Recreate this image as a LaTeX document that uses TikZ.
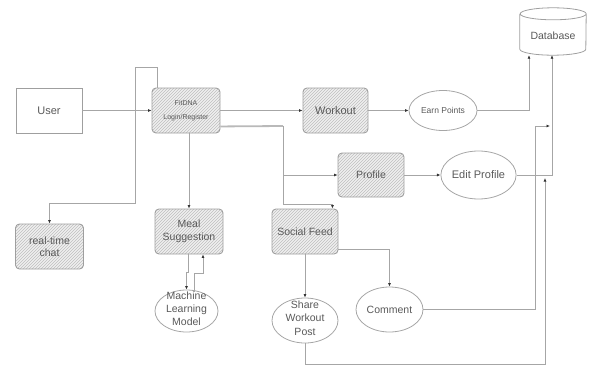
\documentclass[tikz,border=0pt]{standalone}
\usepackage{fontspec}
\setmainfont{Liberation Sans}
\usetikzlibrary{shapes.geometric,patterns,arrows.meta,calc}
\begin{document}
\begin{tikzpicture}[x=1pt,y=-1pt,
  every node/.style={font=\fontsize{10.5}{12.5}\selectfont, text=black!65, align=center},
  hbox/.style={draw=gray!75, line width=0.9pt, rounded corners=4pt,
    preaction={fill=gray!12}, pattern=north east lines, pattern color=gray!50,
    minimum width=66pt, minimum height=45pt, inner sep=1pt},
  plainbox/.style={draw=gray!75, line width=0.8pt, minimum width=66pt, minimum height=45pt},
  oval/.style={ellipse, draw=gray!70, line width=0.8pt, minimum width=67pt, minimum height=45pt, inner sep=0pt},
  conn/.style={draw=gray!70, line width=0.8pt},
  arr/.style={conn, -{Latex[length=3.5pt,width=3pt,color=black!80]}},
  dbline/.style={draw=gray!75, line width=0.8pt}
]
\useasboundingbox (0,0) rectangle (589,367);

% nodes
\node[plainbox] (user) at (49,110.5) {\fontsize{11}{13}\selectfont User};
\node[hbox, minimum width=68pt] (login) at (186,110.5) {\fontsize{7}{10}\selectfont FitDNA\\[1pt]\fontsize{7}{10}\selectfont Login/Register};
\node[hbox, minimum width=65pt] (workout) at (335.5,110.5) {\fontsize{11}{13}\selectfont Workout};
\node[oval, minimum width=68pt, minimum height=40pt] (earn) at (443,110.5) {\fontsize{8.5}{10}\selectfont Earn Points};
\node[minimum width=66pt, minimum height=47pt, inner sep=0pt] (db) at (553,31.5) {};
\draw[dbline] ([yshift=-6pt]db.north west) -- ([yshift=6pt]db.south west)
  arc[start angle=180, end angle=360, x radius=33pt, y radius=6pt]
  -- ([yshift=-6pt]db.north east)
  arc[start angle=0, end angle=180, x radius=33pt, y radius=6pt]
  arc[start angle=180, end angle=360, x radius=33pt, y radius=6pt];
\node at (553,36) {Database};
\node[hbox, minimum width=66pt, minimum height=44pt] (profile) at (371,175) {Profile};
\node[oval, minimum width=67pt, minimum height=48pt] (edit) at (478.5,175) {\fontsize{11}{13}\selectfont Edit Profile};
\node[hbox, minimum width=68pt, minimum height=45pt] (chat) at (49.5,246.5) {real-time\\chat};
\node[hbox, minimum width=68pt, minimum height=45pt] (meal) at (189,231.5) {Meal\\Suggestion};
\node[hbox, minimum width=66pt, minimum height=45pt] (social) at (305,231.5) {Social Feed};
\node[oval, minimum width=63pt, minimum height=42pt] (ml) at (186.5,311)
  {\smash{\makebox[0pt]{\parbox[c]{70pt}{\centering\fontsize{10.5}{13}\selectfont Machine\\Learning\\Model}}}};
\node[oval, minimum width=66pt, minimum height=45pt] (share) at (305,320.5)
  {\smash{\makebox[0pt]{\parbox[c]{70pt}{\centering\fontsize{10.5}{13.5}\selectfont Share\\Workout\\Post}}}};
\node[oval, minimum width=67pt, minimum height=45pt] (comment) at (389.5,309.5) {Comment};

% helper coordinates
\coordinate (b1) at (135,67);
\coordinate (b2) at (135,203);
\coordinate (j1) at (283,126);
\coordinate (j2) at (283,204);
\coordinate (c1) at (535,126);
\coordinate (c2) at (550,126);
\coordinate (s1) at (545,364);
\coordinate (s2) at (545,178);

% connectors
\draw[arr] (user) -- (login);
\draw[arr] ([xshift=6pt]login.north west) |- (b1) -- (b2) -| (chat.north);
\draw[arr] (login) -- (workout);
\draw[conn, line width=1.8pt, draw=gray!55] ([yshift=7pt]login.south east) -- (j1);
\draw[arr] (j1) |- (profile.west);
\draw[arr] (j1) -- (j2) -| ([xshift=-6pt]social.north east);
\draw[arr] (meal.north |- login.south) -- (meal.north);
\draw[arr] ([xshift=-1pt]meal.south) -- ++(0,18) -| (ml.north);
\draw[arr] ($(ml.north)+(7.5,2)$) -- ++(0,-18) -| ([xshift=14pt]meal.south);
\draw[arr] (workout) -- (earn);
\draw[arr] (earn.east) -| ([xshift=-24pt]db.south);
\draw[arr] (profile) -- (edit);
\draw[arr] (edit.east) -| ([xshift=-1pt]db.south);
\draw[arr] (comment.east) -| (c1) -- (c2);
\draw[arr] (share.south) |- (s1) -- (s2);
\draw[arr] ([yshift=5pt]social.south east) -| (comment.north);
\draw[arr] (social.south) -- (share.north);
\end{tikzpicture}
\end{document}
